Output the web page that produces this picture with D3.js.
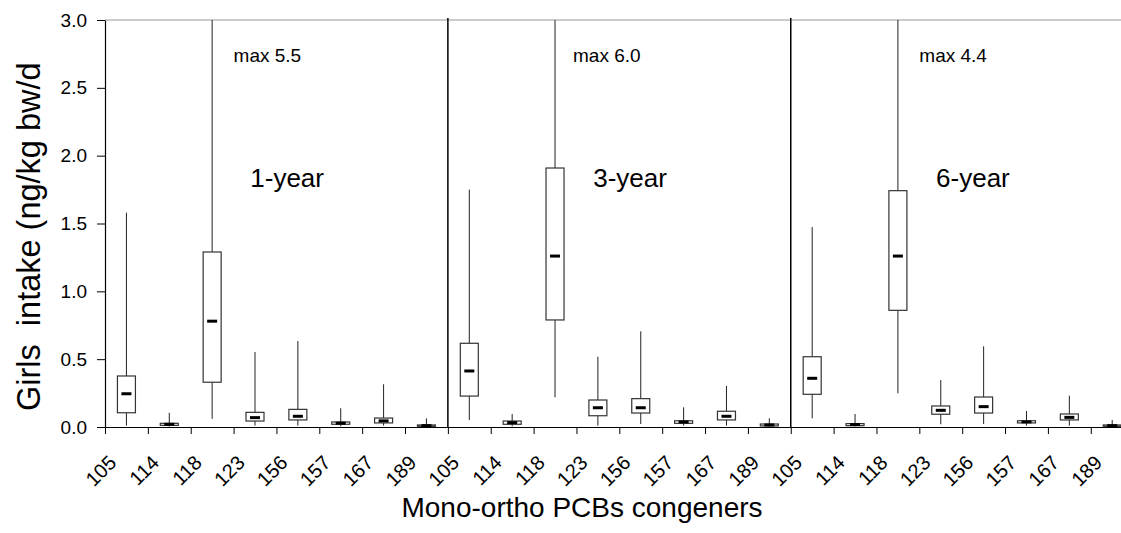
<!DOCTYPE html>
<html>
<head>
<meta charset="utf-8">
<script src="https://cdn.jsdelivr.net/npm/d3@7"></script>
<style>
  body { margin: 0; background: #fff; }
  text { font-family: Arial, "Liberation Sans", sans-serif; fill: #000; }
</style>
</head>
<body>
<svg id="chart"></svg>
<script>
// congeners repeated in each age panel
const congeners = ["105", "114", "118", "123", "156", "157", "167", "189"];
const ages = ["1-year", "3-year", "6-year"];
const maxLabels = ["max 5.5", "max 6.0", "max 4.4"];
const yTicks = [0, 0.5, 1.0, 1.5, 2.0, 2.5, 3.0];

// 1-year
const min1 = [0.01, 0.003, 0.06, 0.01, 0.01, 0.005, 0.01, 0.002];
const q1_1 = [0.105, 0.012, 0.33, 0.044, 0.052, 0.02, 0.03, 0.005];
const med1 = [0.245, 0.02, 0.78, 0.069, 0.079, 0.028, 0.045, 0.01];
const q3_1 = [0.376, 0.027, 1.29, 0.108, 0.13, 0.037, 0.066, 0.015];
const max1 = [1.58, 0.105, 5.5, 0.553, 0.634, 0.138, 0.315, 0.064];
// 3-year
const min2 = [0.052, 0.005, 0.219, 0.01, 0.022, 0.01, 0.01, 0.003];
const q1_2 = [0.228, 0.02, 0.789, 0.083, 0.103, 0.027, 0.052, 0.008];
const med2 = [0.413, 0.032, 1.26, 0.142, 0.142, 0.037, 0.079, 0.015];
const q3_2 = [0.617, 0.044, 1.909, 0.199, 0.209, 0.046, 0.116, 0.022];
const max2 = [1.75, 0.096, 6.0, 0.518, 0.705, 0.145, 0.302, 0.064];
// 6-year
const min3 = [0.064, 0.005, 0.248, 0.02, 0.022, 0.01, 0.01, 0.002];
const q1_3 = [0.241, 0.01, 0.86, 0.094, 0.103, 0.03, 0.052, 0.005];
const med3 = [0.359, 0.018, 1.26, 0.123, 0.15, 0.038, 0.071, 0.01];
const q3_3 = [0.518, 0.025, 1.742, 0.155, 0.221, 0.046, 0.096, 0.015];
const max3 = [1.474, 0.096, 4.4, 0.346, 0.595, 0.118, 0.231, 0.052];

const series = [
  [min1, q1_1, med1, q3_1, max1],
  [min2, q1_2, med2, q3_2, max2],
  [min3, q1_3, med3, q3_3, max3]
];

const boxes = [];
series.forEach((s, p) => {
  congeners.forEach((c, i) => {
    boxes.push({idx: p * 8 + i, min: s[0][i], q1: s[1][i], med: s[2][i], q3: s[3][i], max: s[4][i]});
  });
});

const width = 1121, height = 533;
const mLeft = 105, mTop = 20, mBottom = 427;
const step = 42.86;

const x = d3.scaleLinear().domain([0, 24]).range([mLeft, mLeft + 24 * step]);
const y = d3.scaleLinear().domain([0, 3]).range([mBottom, mTop]);

const svg = d3.select("#chart").attr("width", width).attr("height", height);

// top line at 3.0
svg.append("line")
  .attr("x1", mLeft).attr("x2", width)
  .attr("y1", y(3)).attr("y2", y(3))
  .attr("stroke", "#999").attr("stroke-width", 1.2);

// panel separators
svg.append("g").selectAll("line")
  .data([8, 16])
  .join("line")
  .attr("x1", d => x(d)).attr("x2", d => x(d))
  .attr("y1", y(3) - 2).attr("y2", mBottom)
  .attr("stroke", "#000").attr("stroke-width", 1.5);

const bw = 18;
const g = svg.append("g");
const bx = d => x(d.idx + 0.5);

// whiskers
g.selectAll(".wup").data(boxes).join("line")
  .attr("class", "wup")
  .attr("x1", bx).attr("x2", bx)
  .attr("y1", d => y(d.q3)).attr("y2", d => y(Math.min(d.max, 3)))
  .attr("stroke", "#222").attr("stroke-width", 1);
g.selectAll(".wdn").data(boxes).join("line")
  .attr("class", "wdn")
  .attr("x1", bx).attr("x2", bx)
  .attr("y1", d => y(d.q1)).attr("y2", d => y(d.min))
  .attr("stroke", "#222").attr("stroke-width", 1);

// boxes
g.selectAll("rect.box").data(boxes).join("rect")
  .attr("class", "box")
  .attr("x", d => bx(d) - bw / 2)
  .attr("width", bw)
  .attr("y", d => y(d.q3))
  .attr("height", d => Math.max(1, y(d.q1) - y(d.q3)))
  .attr("fill", "#fff")
  .attr("stroke", "#333").attr("stroke-width", 1.2);

// medians
g.selectAll("rect.med").data(boxes).join("rect")
  .attr("class", "med")
  .attr("x", d => bx(d) - 5)
  .attr("width", 10)
  .attr("y", d => y(d.med) - 1.5)
  .attr("height", 3)
  .attr("fill", "#000");

// x axis
const xAxis = svg.append("g")
  .attr("transform", `translate(0,${mBottom})`)
  .call(d3.axisBottom(x).tickValues(d3.range(24)).tickSize(7).tickSizeOuter(0)
    .tickFormat(i => congeners[i % 8]));
xAxis.select(".domain").attr("d", `M${mLeft - 8},0.5H${width}`).attr("stroke", "#000").attr("stroke-width", 1.2);
xAxis.selectAll(".tick line").attr("stroke", "#000");
xAxis.selectAll(".tick text")
  .attr("x", 0).attr("y", 0).attr("dy", 0)
  .attr("transform", "translate(12,37) rotate(-45)")
  .attr("text-anchor", "end")
  .style("font-size", "20px")
  .style("font-family", "Arial, 'Liberation Sans', sans-serif");

// y axis
const yAxis = svg.append("g")
  .attr("transform", `translate(${mLeft},0)`)
  .call(d3.axisLeft(y).tickValues(yTicks).tickSize(8).tickPadding(10).tickSizeOuter(0)
    .tickFormat(d3.format(".1f")));
yAxis.select(".domain").attr("stroke", "#000").attr("stroke-width", 1.2);
yAxis.selectAll(".tick line").attr("stroke", "#000");
yAxis.selectAll(".tick text")
  .style("font-size", "19px")
  .style("font-family", "Arial, 'Liberation Sans', sans-serif");

// panel labels
svg.append("g").selectAll("text")
  .data(ages)
  .join("text")
  .attr("x", (d, i) => x(i * 8 + 3.39))
  .attr("y", 187)
  .style("font-size", "26px")
  .text(d => d);

svg.append("g").selectAll("text")
  .data(maxLabels)
  .join("text")
  .attr("x", (d, i) => x(i * 8 + [3.0, 2.92, 3.0][i]))
  .attr("y", 62)
  .style("font-size", "19px")
  .text(d => d);

// axis titles
svg.append("text")
  .attr("transform", "translate(40,411) rotate(-90)")
  .attr("text-anchor", "start")
  .style("font-size", "32.5px")
  .text("Girls\u00a0\u00a0intake (ng/kg bw/d");

svg.append("text")
  .attr("x", 582).attr("y", 517)
  .attr("text-anchor", "middle")
  .style("font-size", "28px")
  .text("Mono-ortho PCBs congeners");
</script>
</body>
</html>
